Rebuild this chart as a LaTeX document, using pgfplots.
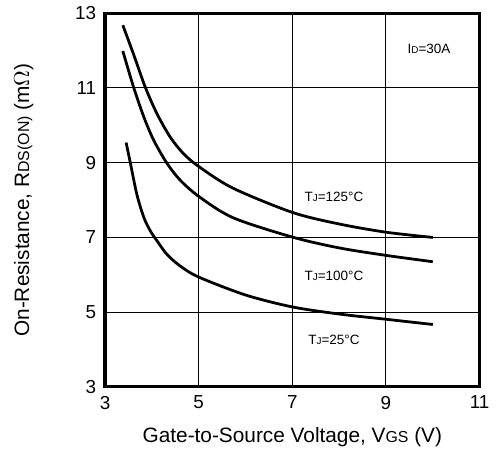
\documentclass[border=0pt]{standalone}
\usepackage{pgfplots}
\pgfplotsset{compat=1.18}
\usepackage{fontspec}
\setmainfont{Liberation Sans}

\newcommand{\lab}[2]{{\fontsize{6.8}{7}\selectfont #1{\fontsize{5}{6}\selectfont #2}}}

\begin{document}
\begin{tikzpicture}
\begin{axis}[
  scale only axis,
  width=189pt, height=188.5pt,
  xmin=3, xmax=11, ymin=3, ymax=13,
  xtick={3,5,7,9,11}, ytick={3,5,7,9,11,13},
  grid=major,
  grid style={black, line width=0.5pt},
  major tick length=0pt,
  tick label style={font=\fontsize{9.5}{10}\selectfont},
  /pgf/number format/assume math mode=true,
  xticklabel style={yshift=-1pt},
  yticklabel style={xshift=-1pt},
  label style={font=\fontsize{10.5}{12}\selectfont},
  xlabel={Gate-to-Source Voltage, V{\fontsize{8}{9}\selectfont GS} (V)},
  ylabel={On-Resistance, R{\fontsize{8}{9}\selectfont DS(ON)} (m$\Omega$)},
  xlabel style={at={(axis description cs:0.5,-0.135)}, anchor=center},
  ylabel style={at={(axis description cs:-0.217,0.5)}, anchor=center},
  clip=false,
]
% Tj = 125 C
\addplot[black, no marks, line width=1.4pt, smooth, tension=0.5] coordinates {
  (3.38,12.68) (3.61,11.90) (3.86,11.02) (4.11,10.31) (4.39,9.69) (4.67,9.25)
  (5.0,8.90) (5.73,8.32) (7,7.67) (8,7.36) (9,7.14) (10,7.0)
};
% Tj = 100 C
\addplot[black, no marks, line width=1.4pt, smooth, tension=0.5] coordinates {
  (3.38,11.99) (3.61,11.02) (3.83,10.22) (4.04,9.6) (4.32,8.99) (4.60,8.54)
  (5,8.10) (5.73,7.53) (7,7.01) (8,6.72) (9,6.52) (10,6.35)
};
% Tj = 25 C
\addplot[black, no marks, line width=1.4pt, smooth, tension=0.5] coordinates {
  (3.45,9.54) (3.54,9.0) (3.68,8.15) (3.83,7.53) (3.97,7.17) (4.11,6.91)
  (4.32,6.55) (4.6,6.24) (5,5.94) (6,5.46) (7,5.14) (8,4.95) (9,4.81) (10,4.67)
};
\node at (axis cs:9.92,12.05) {\lab{I}{D}\lab{=30A}{}};
\node at (axis cs:7.89,8.09) {\lab{T}{J}\lab{=125\textdegree C}{}};
\node at (axis cs:7.89,5.97) {\lab{T}{J}\lab{=100\textdegree C}{}};
\node at (axis cs:7.89,4.25) {\lab{T}{J}\lab{=25\textdegree C}{}};
\draw[black, line width=1.6pt] (rel axis cs:0,0) rectangle (rel axis cs:1,1);
\path (rel axis cs:-0.2804,-0.1963) rectangle (rel axis cs:1.0317,1.0318);
\end{axis}
\end{tikzpicture}
\end{document}
